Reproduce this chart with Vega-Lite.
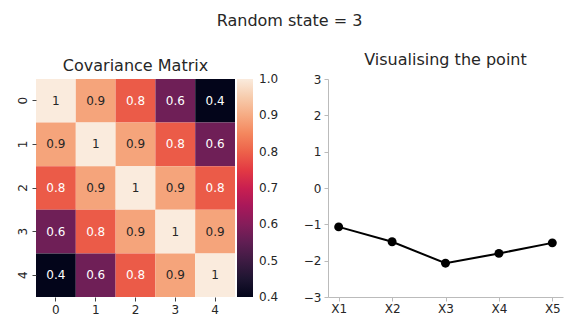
{
  "$schema": "https://vega.github.io/schema/vega-lite/v6.json",
  "padding": {"left": 16, "top": 13, "right": 2, "bottom": 2},
  "background": "white",
  "config": {
    "font": "DejaVu Sans",
    "view": {"stroke": null},
    "axis": {"labelFontSize": 12, "labelColor": "#262626", "tickColor": "#444444", "tickSize": 4, "grid": false, "title": null},
    "title": {"fontSize": 16, "fontWeight": "normal", "color": "#262626"}
  },
  "title": {"text": "Random state = 3", "fontSize": 16, "offset": 23, "anchor": "middle"},
  "resolve": {"legend": {"color": "independent"}, "scale": {"color": "independent"}},
  "spacing": 24,
  "hconcat": [
    {
      "title": {"text": "Covariance Matrix", "offset": 5},
      "width": 199,
      "height": 218,
      "data": {"values": [
        {"row": 0, "col": 0, "v": 1.0}, {"row": 0, "col": 1, "v": 0.89}, {"row": 0, "col": 2, "v": 0.79}, {"row": 0, "col": 3, "v": 0.57}, {"row": 0, "col": 4, "v": 0.4},
        {"row": 1, "col": 0, "v": 0.89}, {"row": 1, "col": 1, "v": 1.0}, {"row": 1, "col": 2, "v": 0.89}, {"row": 1, "col": 3, "v": 0.79}, {"row": 1, "col": 4, "v": 0.57},
        {"row": 2, "col": 0, "v": 0.79}, {"row": 2, "col": 1, "v": 0.89}, {"row": 2, "col": 2, "v": 1.0}, {"row": 2, "col": 3, "v": 0.89}, {"row": 2, "col": 4, "v": 0.79},
        {"row": 3, "col": 0, "v": 0.57}, {"row": 3, "col": 1, "v": 0.79}, {"row": 3, "col": 2, "v": 0.89}, {"row": 3, "col": 3, "v": 1.0}, {"row": 3, "col": 4, "v": 0.89},
        {"row": 4, "col": 0, "v": 0.4}, {"row": 4, "col": 1, "v": 0.57}, {"row": 4, "col": 2, "v": 0.79}, {"row": 4, "col": 3, "v": 0.89}, {"row": 4, "col": 4, "v": 1.0}
      ]},
      "encoding": {
        "x": {"field": "col", "type": "ordinal", "axis": {"labelAngle": 0, "domain": false, "labelPadding": 3}},
        "y": {"field": "row", "type": "ordinal", "axis": {"labelAngle": -90, "domain": false, "labelPadding": 3, "labelAlign": "center", "labelBaseline": "bottom"}}
      },
      "layer": [
        {
          "mark": {"type": "rect"},
          "encoding": {
            "color": {
              "field": "v", "type": "quantitative",
              "scale": {
                "domain": [0.4, 0.486, 0.571, 0.657, 0.743, 0.829, 0.914, 1.0],
                "range": ["#03051A", "#35193E", "#701F57", "#AD1759", "#E13342", "#F37651", "#F6B48F", "#FAEBDD"]
              },
              "legend": {
                "title": null,
                "orient": "right",
                "offset": 2,
                "padding": 0,
                "gradientLength": 218,
                "gradientThickness": 16,
                "gradientStrokeWidth": 0,
                "values": [0.4, 0.5, 0.6, 0.7, 0.8, 0.9, 1.0],
                "format": ".1f",
                "labelFontSize": 12,
                "labelColor": "#262626",
                "labelOffset": 6,
                "labelBaseline": "middle",
                "labelOverlap": false,
                "encode": {"labels": {"update": {"baseline": {"value": "middle"}}}}
              }
            }
          }
        },
        {
          "mark": {"type": "text", "fontSize": 12},
          "encoding": {
            "text": {"field": "v", "type": "quantitative", "format": ".1~f"},
            "color": {"condition": {"test": "datum.v >= 0.85", "value": "#262626"}, "value": "#ffffff"}
          }
        }
      ]
    },
    {
      "title": {"text": "Visualising the point", "offset": 5},
      "width": 235,
      "height": 218,
      "data": {"values": [
        {"x": "X1", "y": -1.07},
        {"x": "X2", "y": -1.48},
        {"x": "X3", "y": -2.07},
        {"x": "X4", "y": -1.8},
        {"x": "X5", "y": -1.51}
      ]},
      "encoding": {
        "x": {"field": "x", "type": "ordinal", "scale": {"type": "point", "padding": 0.2}, "axis": {"labelAngle": 0, "domainColor": "#bbbbbb", "tickColor": "#bbbbbb", "labelPadding": 2}},
        "y": {"field": "y", "type": "quantitative", "scale": {"domain": [-3, 3], "nice": false}, "axis": {"values": [-3, -2, -1, 0, 1, 2, 3], "domainColor": "#bbbbbb", "tickColor": "#bbbbbb", "labelPadding": 3}}
      },
      "layer": [
        {"mark": {"type": "line", "color": "black", "strokeWidth": 2}},
        {"mark": {"type": "point", "filled": true, "color": "black", "size": 80, "opacity": 1}}
      ]
    }
  ]
}
